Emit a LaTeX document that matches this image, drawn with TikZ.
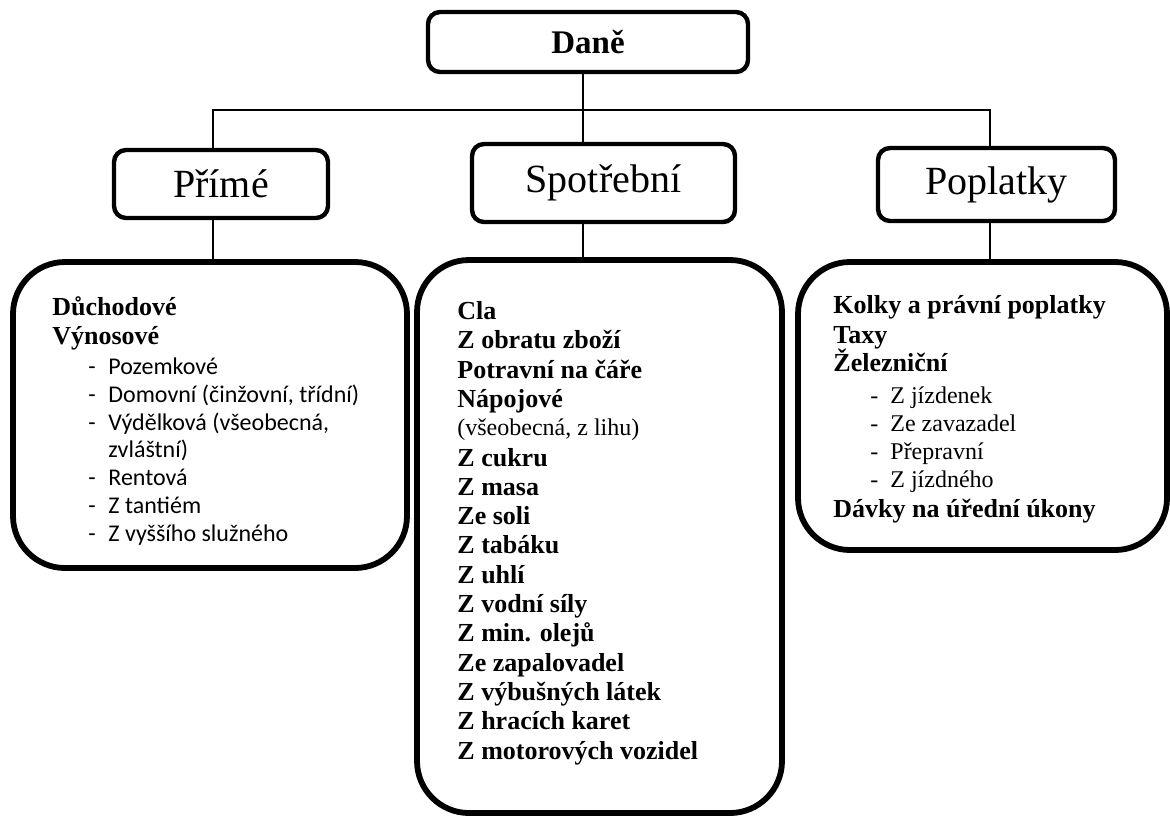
\documentclass[tikz,border=0pt]{standalone}
\usepackage{fontspec}
\setmainfont{Liberation Serif}
\newfontfamily\calfont{Carlito}
\begin{document}
\begin{tikzpicture}[x=0.5pt,y=-0.5pt,
  topbox/.style={draw, line width=2.2pt, rounded corners=6pt, inner sep=0pt, font=\fontsize{20}{23}\selectfont},
  bigbox/.style={draw, line width=2.9pt, rounded corners=26pt, inner sep=0pt},
  conn/.style={line width=0.75pt},
  bitem/.style={anchor=base west, inner sep=0pt, font=\bfseries\fontsize{13}{15}\selectfont},
  sitem/.style={anchor=base west, inner sep=0pt, font=\calfont\fontsize{12}{14}\selectfont},
  ritem/.style={anchor=base west, inner sep=0pt, font=\fontsize{12}{14}\selectfont},
]
\useasboundingbox (0,0) rectangle (1170,816);

% top level boxes
\node[topbox, minimum width=160pt, minimum height=30pt, font=\bfseries\fontsize{16.5}{19}\selectfont] (dane) at (588,42) {Daně};
\node[topbox, minimum width=107pt, minimum height=34pt] (prime) at (221,184) {Přímé};
\node[topbox, minimum width=131.5pt, minimum height=39pt] (spot) at (603.5,183) {Spotřební};
\node[topbox, minimum width=118.5pt, minimum height=36.5pt] (popl) at (996.5,184.5) {Poplatky};

% big boxes
\node[bigbox, minimum width=197pt, minimum height=153pt] (bigL) at (210,415) {};
\node[bigbox, minimum width=182.5pt, minimum height=276.5pt] (bigM) at (599.5,536.5) {};
\node[bigbox, minimum width=184.5pt, minimum height=144pt] (bigR) at (982.5,406) {};

% connectors
\coordinate (cL) at (213,110);
\coordinate (cM) at (583,110);
\coordinate (cR) at (990,110);
\draw[conn] (cL |- prime.north) -- (cL) -- (cR) -- (cR |- popl.north);
\draw[conn] (cM |- dane.south) -- (cM |- spot.north);
\draw[conn] (cL |- prime.south) -- (cL |- bigL.north);
\draw[conn] (cM |- spot.south) -- (cM |- bigM.north);
\draw[conn] (cR |- popl.south) -- (cR |- bigR.north);

% left box text
\node[bitem] (l1) at (52,315) {Důchodové};
\node[bitem] (l2) at (52,344) {Výnosové};
\node[sitem] (l3) at (88,374) {\makebox[10pt][l]{-}Pozemkové};
\node[sitem] (l4) at (88,402) {\makebox[10pt][l]{-}Domovní (činžovní, třídní)};
\node[sitem] (l5) at (88,430) {\makebox[10pt][l]{-}Výdělková (všeobecná,};
\node[sitem] (l6) at (108,457) {zvláštní)};
\node[sitem] (l7) at (88,485) {\makebox[10pt][l]{-}Rentová};
\node[sitem] (l8) at (88,513) {\makebox[10pt][l]{-}Z tantiém};
\node[sitem] (l9) at (88,541) {\makebox[10pt][l]{-}Z vyššího služného};

% middle box text
\node[bitem] (m1) at (457,319) {Cla};
\node[bitem] (m2) at (457,348) {Z obratu zboží};
\node[bitem] (m3) at (457,378) {Potravní na čáře};
\node[bitem] (m4) at (457,407) {Nápojové};
\node[ritem] (m5) at (457,435) {(všeobecná, z lihu)};
\node[bitem] (m6) at (457,466) {Z cukru};
\node[bitem] (m7) at (457,495) {Z masa};
\node[bitem] (m8) at (457,524) {Ze soli};
\node[bitem] (m9) at (457,553) {Z tabáku};
\node[bitem] (m10) at (457,583) {Z uhlí};
\node[bitem] (m11) at (457,612) {Z vodní síly};
\node[bitem] (m12) at (457,641) {Z min. olejů};
\node[bitem] (m13) at (457,671) {Ze zapalovadel};
\node[bitem] (m14) at (457,700) {Z výbušných látek};
\node[bitem] (m15) at (457,729) {Z hracích karet};
\node[bitem] (m16) at (457,759) {Z motorových vozidel};

% right box text
\node[bitem] (r1) at (833,313) {Kolky a právní poplatky};
\node[bitem] (r2) at (833,343) {Taxy};
\node[bitem] (r3) at (833,371) {Železniční};
\node[ritem] (r4) at (870,403) {\makebox[10pt][l]{-}Z jízdenek};
\node[ritem] (r5) at (870,431) {\makebox[10pt][l]{-}Ze zavazadel};
\node[ritem] (r6) at (870,459) {\makebox[10pt][l]{-}Přepravní};
\node[ritem] (r7) at (870,487) {\makebox[10pt][l]{-}Z jízdného};
\node[bitem] (r8) at (833,517) {Dávky na úřední úkony};
\end{tikzpicture}
\end{document}
